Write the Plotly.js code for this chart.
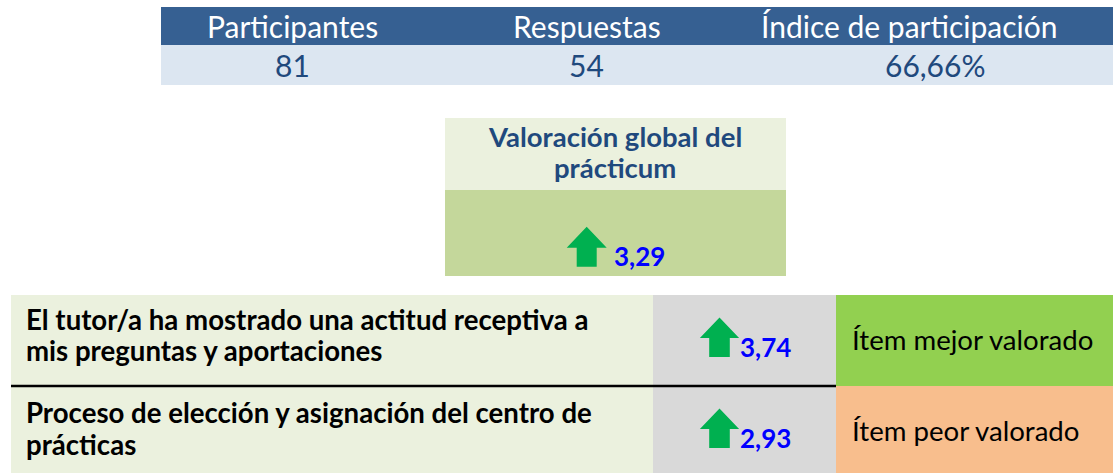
<!DOCTYPE html>
<html>
<head>
<meta charset="utf-8">
<script src="https://cdn.plot.ly/plotly-3.0.1.min.js"></script>
<style>html,body{margin:0;padding:0;background:#fff;}#chart{width:1113px;height:473px;}</style>
</head>
<body>
<div id="chart"></div>
<script>
// ---- data ----
const headers = ["Participantes", "Respuestas", "Índice de participación"];
const headerValues = [81, 54, 66.66];
const headerFormats = ["int", "int", "pct"];
const globalLabel = ["Valoración global del", "prácticum"];
const globalScore = [3.29];
const itemLabels = [
  ["El tutor/a ha mostrado una actitud receptiva a", "mis preguntas y aportaciones"],
  ["Proceso de elección y asignación del centro de", "prácticas"]
];
const itemScores = [3.74, 2.93];
const itemTags = ["Ítem mejor valorado", "Ítem peor valorado"];

// ---- helpers ----
const FONT = "Lato, 'Open Sans', sans-serif";
const fmt = (v, kind) => {
  if (kind === "int") return String(v);
  if (kind === "pct") return v.toFixed(2).replace(".", ",") + "%";
  return v.toFixed(2).replace(".", ",");
};
const ASC = 0.387; // baseline -> box middle offset (em)
const shapes = [];
const ann = [];
function rect(x0, y0, x1, y1, color) {
  shapes.push({type: "rect", xref: "x", yref: "y", x0, y0, x1, y1, fillcolor: color, line: {width: 0}, layer: "below"});
}
function text(t, x, baseline, size, opts) {
  ann.push(Object.assign({
    text: t, x: x, y: baseline - ASC * size, xref: "x", yref: "y",
    showarrow: false, xanchor: "center", yanchor: "middle",
    borderpad: 0, borderwidth: 0,
    font: {family: FONT, size: size, color: "#000"}
  }, opts || {}));
}
function upArrow(cx, tipY, headY, botY, headHalf, shaftHalf) {
  const p = `M${cx - headHalf},${headY} L${cx},${tipY} L${cx + headHalf},${headY} ` +
            `L${cx + shaftHalf},${headY} L${cx + shaftHalf},${botY} L${cx - shaftHalf},${botY} ` +
            `L${cx - shaftHalf},${headY} Z`;
  shapes.push({type: "path", xref: "x", yref: "y", path: p, fillcolor: "#00B050", line: {width: 0}});
}

// ---- top table ----
rect(161, 7, 1113, 45, "#366092");
rect(161, 45, 1113, 85, "#DCE6F1");
const headerX = [292, 587, 909];
const valueX = [292, 586, 935];
headers.forEach((h, i) => text(h, headerX[i], 38, 30, {font: {family: FONT, size: 30, color: "#FFFFFF"}}));
headerValues.forEach((v, i) => text(fmt(v, headerFormats[i]), valueX[i], 77, 30, {font: {family: FONT, size: 30, color: "#1F497D"}}));

// ---- global box ----
rect(445, 118, 786, 190, "#EBF1DE");
rect(445, 190, 786, 276, "#C4D79B");
const titleBase = [147, 178];
globalLabel.forEach((l, i) => text("<b>" + l + "</b>", 615, titleBase[i], 27.5, {font: {family: FONT, size: 27.5, color: "#1F497D"}}));
globalScore.forEach(v => {
  upArrow(586.7, 226.7, 247.7, 266.7, 20, 10);
  text("<b>" + fmt(v) + "</b>", 614, 266, 26, {xanchor: "left", font: {family: FONT, size: 26, color: "#0000FF"}});
});

// ---- items table ----
const rowTop = [295, 386];
const rowBot = [386, 473];
const tagColors = ["#92D050", "#F8BE8D"];
const lineBase = [[330, 361], [423, 455]];
const scoreBase = [357, 448];
const tagBase = [350, 441];
itemLabels.forEach((lines, i) => {
  rect(11, rowTop[i], 653, rowBot[i], "#EBF1DE");
  rect(653, rowTop[i], 836, rowBot[i], "#D9D9D9");
  rect(836, rowTop[i], 1113, rowBot[i], tagColors[i]);
  lines.forEach((l, k) => text("<b>" + l + "</b>", 26, lineBase[i][k], 27.6, {xanchor: "left"}));
  const tip = scoreBase[i] - 39.5;
  upArrow(719.5, tip, tip + 20.5, scoreBase[i], 19.6, 10.3);
  text("<b>" + fmt(itemScores[i]) + "</b>", 740, scoreBase[i], 26, {xanchor: "left", font: {family: FONT, size: 26, color: "#0000FF"}});
  text(itemTags[i], 852, tagBase[i], 27.6, {xanchor: "left"});
});
shapes.push({type: "line", xref: "x", yref: "y", x0: 11, x1: 836, y0: 386, y1: 386, line: {color: "#000", width: 2.5}});

const layout = {
  width: 1113, height: 473,
  margin: {l: 0, r: 0, t: 0, b: 0, pad: 0},
  paper_bgcolor: "#FFFFFF", plot_bgcolor: "#FFFFFF",
  xaxis: {range: [0, 1113], visible: false, fixedrange: true},
  yaxis: {range: [473, 0], visible: false, fixedrange: true},
  showlegend: false,
  shapes: shapes,
  annotations: ann
};
Plotly.newPlot("chart", [{x: [], y: [], type: "scatter"}], layout, {displayModeBar: false, staticPlot: true});
</script>
</body>
</html>
